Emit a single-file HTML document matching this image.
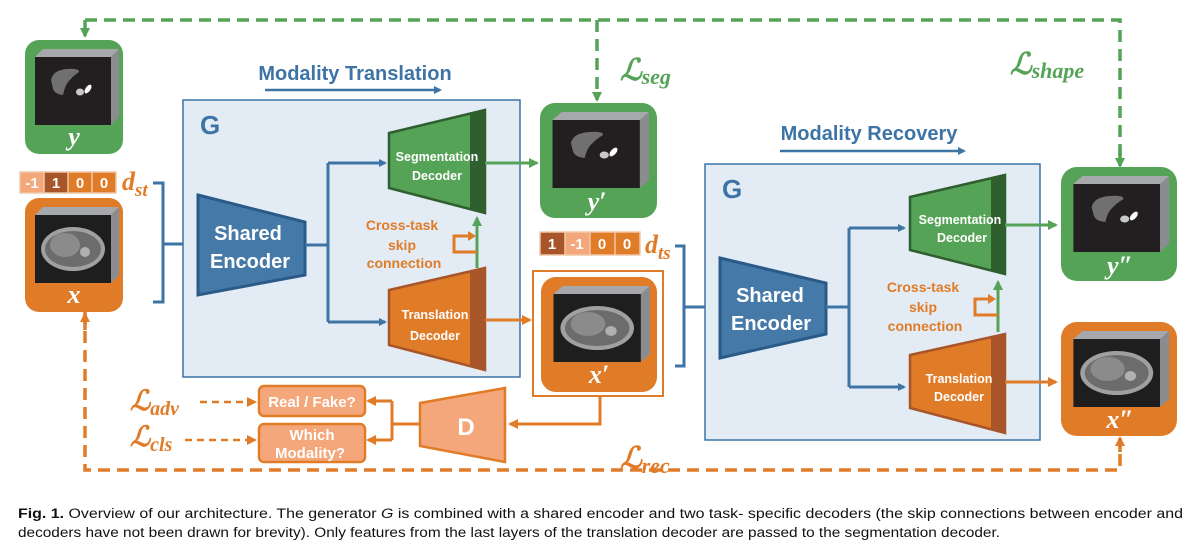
<!DOCTYPE html>
<html><head><meta charset="utf-8"><style>
html,body{margin:0;padding:0;background:#fff;}
svg{display:block;}
text{font-family:"Liberation Sans",sans-serif;}
.it{font-family:"Liberation Serif",serif;font-style:italic;font-weight:bold;}
</style></head><body>
<svg width="1202" height="551" viewBox="0 0 1202 551" xmlns="http://www.w3.org/2000/svg">
<defs>
<marker id="ab" markerWidth="8" markerHeight="8" refX="6" refY="4" orient="auto" markerUnits="userSpaceOnUse"><path d="M0,0 L8,4 L0,8 z" fill="#3d73a5"/></marker>
<marker id="ag" markerWidth="10" markerHeight="10" refX="8" refY="5" orient="auto" markerUnits="userSpaceOnUse"><path d="M0,0 L10,5 L0,10 z" fill="#55a356"/></marker>
<marker id="ao" markerWidth="10" markerHeight="10" refX="8" refY="5" orient="auto" markerUnits="userSpaceOnUse"><path d="M0,0 L10,5 L0,10 z" fill="#e07b28"/></marker>
<g id="seg">
<rect x="10" y="17" width="76" height="68" fill="#231f20"/>
<polygon points="10,17 18,9 94,9 86,17" fill="#a6a8ab"/>
<polygon points="86,17 94,9 94,77 86,85" fill="#8a8c8f"/>
<path d="M26,40 Q28,30 42,29 Q54,28 54,32 Q48,36 44,41 Q40,45 38,55 Q30,54 28,49 Z" fill="#707070"/>
<ellipse cx="55" cy="52" rx="4" ry="3.5" fill="#c8c8c8"/>
<ellipse cx="63" cy="49" rx="2.5" ry="5" transform="rotate(35 63 49)" fill="#fff"/>
</g>
<g id="mri">
<rect x="10" y="17" width="76" height="68" fill="#1e1e1e"/>
<polygon points="10,17 18,9 94,9 86,17" fill="#a6a8ab"/>
<polygon points="86,17 94,9 94,77 86,85" fill="#8a8c8f"/>
<ellipse cx="48" cy="51" rx="32" ry="22" fill="#a0a0a0"/>
<ellipse cx="48" cy="51" rx="28" ry="18" fill="#6c6c6c"/>
<ellipse cx="40" cy="47" rx="15" ry="12" fill="#8b8b8b"/>
<circle cx="60" cy="54" r="5" fill="#b0b0b0"/>
</g>
</defs>

<!-- top green dashed -->
<path d="M85,20 H1120 V165" fill="none" stroke="#55a356" stroke-width="3.5" stroke-dasharray="12,7"/>
<path d="M85,20 V36" fill="none" stroke="#55a356" stroke-width="3.5" marker-end="url(#ag)"/>
<path d="M597,20 V100" fill="none" stroke="#55a356" stroke-width="3.5" stroke-dasharray="12,7" marker-end="url(#ag)"/>
<path d="M1120,150 V166" fill="none" stroke="#55a356" stroke-width="3.5" marker-end="url(#ag)"/>

<!-- bottom orange dashed -->
<path d="M85,312 V470 H1120 V438" fill="none" stroke="#e07b28" stroke-width="3.5" stroke-dasharray="12,7"/>
<path d="M85,330 V314" fill="none" stroke="#e07b28" stroke-width="3.5" marker-end="url(#ao)"/>
<path d="M1120,452 V438" fill="none" stroke="#e07b28" stroke-width="3.5" marker-end="url(#ao)"/>

<!-- losses -->
<text x="620" y="80" class="it" font-size="30" fill="#55a356">ℒ<tspan font-size="22" dy="4">seg</tspan></text>
<text x="1010" y="74" class="it" font-size="30" fill="#55a356">ℒ<tspan font-size="22" dy="4">shape</tspan></text>
<text x="620" y="468" class="it" font-size="30" fill="#e07b28">ℒ<tspan font-size="22" dy="5">rec</tspan></text>
<text x="130" y="410" class="it" font-size="28" fill="#e07b28">ℒ<tspan font-size="20" dy="5">adv</tspan></text>
<text x="130" y="446" class="it" font-size="28" fill="#e07b28">ℒ<tspan font-size="20" dy="5">cls</tspan></text>

<!-- y box -->
<rect x="25" y="40" width="98" height="114" rx="14" fill="#55a356"/>
<use href="#seg" transform="translate(25 40) scale(1.0 1.0)"/>
<text x="74" y="145" class="it" font-size="26" fill="#fff" text-anchor="middle">y</text>

<!-- d_st -->
<rect x="20" y="172" width="24" height="21" fill="#f4a77a"/>
<rect x="44" y="172" width="24" height="21" fill="#a8552a"/>
<rect x="68" y="172" width="24" height="21" fill="#e07b28"/>
<rect x="92" y="172" width="24" height="21" fill="#e07b28"/>
<g stroke="#f0c8a8" stroke-width="1.5" fill="none"><rect x="20" y="172" width="96" height="21"/><path d="M44,172V193M68,172V193M92,172V193"/></g>
<g font-size="15" font-weight="bold" fill="#fff" text-anchor="middle"><text x="32" y="188">-1</text><text x="56" y="188">1</text><text x="80" y="188">0</text><text x="104" y="188">0</text></g>
<text x="122" y="190" class="it" font-size="26" fill="#e07b28">d<tspan font-size="19" dy="6">st</tspan></text>

<!-- x box -->
<rect x="25" y="198" width="98" height="114" rx="14" fill="#e07b28"/>
<use href="#mri" transform="translate(25 198)"/>
<text x="74" y="303" class="it" font-size="26" fill="#fff" text-anchor="middle">x</text>

<!-- bracket 1 -->
<path d="M153,183 H163 V302 H153" fill="none" stroke="#3d73a5" stroke-width="3"/>
<path d="M163,244 H196" fill="none" stroke="#3d73a5" stroke-width="3" marker-end="url(#ab)"/>

<!-- Modality Translation -->
<text x="355" y="80" font-size="20" font-weight="bold" fill="#3d73a5" text-anchor="middle">Modality Translation</text>
<path d="M265,90 H440" stroke="#3d73a5" stroke-width="2.5" marker-end="url(#ab)"/>

<!-- G box 1 -->
<rect x="183" y="100" width="337" height="277" fill="#e3ecf4" stroke="#3d73a5" stroke-width="1.5"/>
<text x="200" y="134" font-size="26" font-weight="bold" fill="#3d73a5">G</text>
<polygon points="198,195 305,222 305,275 198,295" fill="#4479a8" stroke="#2a5a88" stroke-width="3"/>
<text x="248" y="240" font-size="20" font-weight="bold" fill="#fff" text-anchor="middle">Shared</text>
<text x="250" y="268" font-size="20" font-weight="bold" fill="#fff" text-anchor="middle">Encoder</text>
<path d="M305,245 H328 M328,163 V322" fill="none" stroke="#3d73a5" stroke-width="3"/>
<path d="M328,163 H385" fill="none" stroke="#3d73a5" stroke-width="3" marker-end="url(#ab)"/>
<path d="M328,322 H385" fill="none" stroke="#3d73a5" stroke-width="3" marker-end="url(#ab)"/>
<polygon points="389,133 485,110 485,213 389,188" fill="#55a356" stroke="#2f5e2f" stroke-width="2.5"/>
<polygon points="470,114 485,110 485,213 470,209" fill="#2f5e2f"/>
<text x="437" y="161" font-size="12.5" font-weight="bold" fill="#fff" text-anchor="middle">Segmentation</text>
<text x="437" y="180" font-size="12.5" font-weight="bold" fill="#fff" text-anchor="middle">Decoder</text>
<polygon points="389,290 485,268 485,370 389,345" fill="#e07b28" stroke="#a8552a" stroke-width="2.5"/>
<polygon points="470,272 485,268 485,370 470,366" fill="#a8552a"/>
<text x="435" y="319" font-size="12.5" font-weight="bold" fill="#fff" text-anchor="middle">Translation</text>
<text x="435" y="340" font-size="12.5" font-weight="bold" fill="#fff" text-anchor="middle">Decoder</text>
<g font-size="14" font-weight="bold" fill="#e07b28" text-anchor="middle"><text x="402" y="230">Cross-task</text><text x="402" y="250">skip</text><text x="404" y="268">connection</text></g>
<path d="M477,268 V218" fill="none" stroke="#55a356" stroke-width="3" marker-end="url(#ag)"/>
<path d="M477,252 H454 V236 H470" fill="none" stroke="#e07b28" stroke-width="3"/>
<polygon points="468,231 476,236 468,241" fill="#e07b28"/>
<path d="M485,163 H537" fill="none" stroke="#55a356" stroke-width="3" marker-end="url(#ag)"/>
<path d="M485,320 H530" fill="none" stroke="#e07b28" stroke-width="3" marker-end="url(#ao)"/>

<!-- y' -->
<rect x="540" y="103" width="117" height="115" rx="15" fill="#55a356"/>
<use href="#seg" transform="translate(541 103) scale(1.15 1.0)"/>
<text x="597" y="210" class="it" font-size="26" fill="#fff" text-anchor="middle">y′</text>

<!-- d_ts -->
<rect x="540" y="232" width="25" height="23" fill="#a8552a"/>
<rect x="565" y="232" width="25" height="23" fill="#f4a77a"/>
<rect x="590" y="232" width="25" height="23" fill="#e07b28"/>
<rect x="615" y="232" width="25" height="23" fill="#e07b28"/>
<g stroke="#f0c8a8" stroke-width="1.5" fill="none"><rect x="540" y="232" width="100" height="23"/><path d="M565,232V255M590,232V255M615,232V255"/></g>
<g font-size="15" font-weight="bold" fill="#fff" text-anchor="middle"><text x="552" y="249">1</text><text x="577" y="249">-1</text><text x="602" y="249">0</text><text x="627" y="249">0</text></g>
<text x="645" y="253" class="it" font-size="26" fill="#e07b28">d<tspan font-size="19" dy="6">ts</tspan></text>

<!-- x' -->
<rect x="533" y="271" width="130" height="125" fill="#fff" stroke="#e07b28" stroke-width="2"/>
<rect x="541" y="277" width="116" height="115" rx="15" fill="#e07b28"/>
<use href="#mri" transform="translate(542 277) scale(1.15 1.0)"/>
<text x="599" y="383" class="it" font-size="26" fill="#fff" text-anchor="middle">x′</text>

<!-- bracket 2 -->
<path d="M675,246 H684 V366 H675" fill="none" stroke="#3d73a5" stroke-width="3"/>
<path d="M684,307 H717" fill="none" stroke="#3d73a5" stroke-width="3" marker-end="url(#ab)"/>

<!-- D path -->
<path d="M600,396 V424 H510" fill="none" stroke="#e07b28" stroke-width="3" marker-end="url(#ao)"/>
<polygon points="420,403 505,388 505,462 420,446" fill="#f4a77a" stroke="#e07b28" stroke-width="2.5"/>
<text x="466" y="435" font-size="24" font-weight="bold" fill="#fff" text-anchor="middle">D</text>
<path d="M420,424 H392 M392,401 V440" fill="none" stroke="#e07b28" stroke-width="3"/>
<path d="M392,401 H368" fill="none" stroke="#e07b28" stroke-width="3" marker-end="url(#ao)"/>
<path d="M392,440 H368" fill="none" stroke="#e07b28" stroke-width="3" marker-end="url(#ao)"/>
<rect x="259" y="386" width="106" height="30" rx="5" fill="#f4a77a" stroke="#e07b28" stroke-width="2.5"/>
<text x="312" y="407" font-size="15" font-weight="bold" fill="#fff" text-anchor="middle">Real / Fake?</text>
<rect x="259" y="424" width="106" height="38" rx="5" fill="#f4a77a" stroke="#e07b28" stroke-width="2.5"/>
<text x="312" y="440" font-size="15" font-weight="bold" fill="#fff" text-anchor="middle">Which</text>
<text x="310" y="458" font-size="15" font-weight="bold" fill="#fff" text-anchor="middle">Modality?</text>
<path d="M200,402 H255" fill="none" stroke="#e07b28" stroke-width="2.5" stroke-dasharray="7,5" marker-end="url(#ao)"/>
<path d="M185,440 H255" fill="none" stroke="#e07b28" stroke-width="2.5" stroke-dasharray="7,5" marker-end="url(#ao)"/>

<!-- Modality Recovery -->
<text x="869" y="140" font-size="20" font-weight="bold" fill="#3d73a5" text-anchor="middle">Modality Recovery</text>
<path d="M780,151 H964" stroke="#3d73a5" stroke-width="2.5" marker-end="url(#ab)"/>

<!-- G box 2 -->
<rect x="705" y="164" width="335" height="276" fill="#e3ecf4" stroke="#3d73a5" stroke-width="1.5"/>
<text x="722" y="198" font-size="26" font-weight="bold" fill="#3d73a5">G</text>
<polygon points="720,258 826,283 826,334 720,358" fill="#4479a8" stroke="#2a5a88" stroke-width="3"/>
<text x="770" y="302" font-size="20" font-weight="bold" fill="#fff" text-anchor="middle">Shared</text>
<text x="771" y="330" font-size="20" font-weight="bold" fill="#fff" text-anchor="middle">Encoder</text>
<path d="M826,307 H849 M849,228 V387" fill="none" stroke="#3d73a5" stroke-width="3"/>
<path d="M849,228 H904" fill="none" stroke="#3d73a5" stroke-width="3" marker-end="url(#ab)"/>
<path d="M849,387 H904" fill="none" stroke="#3d73a5" stroke-width="3" marker-end="url(#ab)"/>
<polygon points="910,197 1005,175 1005,274 910,250" fill="#55a356" stroke="#2f5e2f" stroke-width="2.5"/>
<polygon points="991,178 1005,175 1005,274 991,271" fill="#2f5e2f"/>
<text x="960" y="224" font-size="12.5" font-weight="bold" fill="#fff" text-anchor="middle">Segmentation</text>
<text x="962" y="242" font-size="12.5" font-weight="bold" fill="#fff" text-anchor="middle">Decoder</text>
<polygon points="910,355 1005,334 1005,433 910,408" fill="#e07b28" stroke="#a8552a" stroke-width="2.5"/>
<polygon points="991,337 1005,334 1005,433 991,430" fill="#a8552a"/>
<text x="959" y="383" font-size="12.5" font-weight="bold" fill="#fff" text-anchor="middle">Translation</text>
<text x="959" y="401" font-size="12.5" font-weight="bold" fill="#fff" text-anchor="middle">Decoder</text>
<g font-size="14" font-weight="bold" fill="#e07b28" text-anchor="middle"><text x="923" y="292">Cross-task</text><text x="923" y="312">skip</text><text x="925" y="331">connection</text></g>
<path d="M998,332 V282" fill="none" stroke="#55a356" stroke-width="3" marker-end="url(#ag)"/>
<path d="M998,315 H975 V299 H990" fill="none" stroke="#e07b28" stroke-width="3"/>
<polygon points="988,294 996,299 988,304" fill="#e07b28"/>
<path d="M1005,225 H1056" fill="none" stroke="#55a356" stroke-width="3" marker-end="url(#ag)"/>
<path d="M1005,382 H1056" fill="none" stroke="#e07b28" stroke-width="3" marker-end="url(#ao)"/>

<!-- y'' -->
<rect x="1061" y="167" width="116" height="114" rx="16" fill="#55a356"/>
<use href="#seg" transform="translate(1062 167) scale(1.14 1.0)"/>
<text x="1120" y="274" class="it" font-size="26" fill="#fff" text-anchor="middle">y″</text>
<!-- x'' -->
<rect x="1061" y="322" width="116" height="114" rx="16" fill="#e07b28"/>
<use href="#mri" transform="translate(1062 322) scale(1.14 1.0)"/>
<text x="1120" y="428" class="it" font-size="26" fill="#fff" text-anchor="middle">x″</text>

<!-- caption -->
<text x="18" y="518" font-size="13.5" fill="#111" textLength="1165" lengthAdjust="spacingAndGlyphs"><tspan font-weight="bold">Fig. 1.</tspan> Overview of our architecture. The generator <tspan font-style="italic">G</tspan> is combined with a shared encoder and two task- specific decoders (the skip connections between encoder and</text>
<text x="18" y="537" font-size="13.5" fill="#111" textLength="982" lengthAdjust="spacingAndGlyphs">decoders have not been drawn for brevity). Only features from the last layers of the translation decoder are passed to the segmentation decoder.</text>
</svg>
</body></html>
